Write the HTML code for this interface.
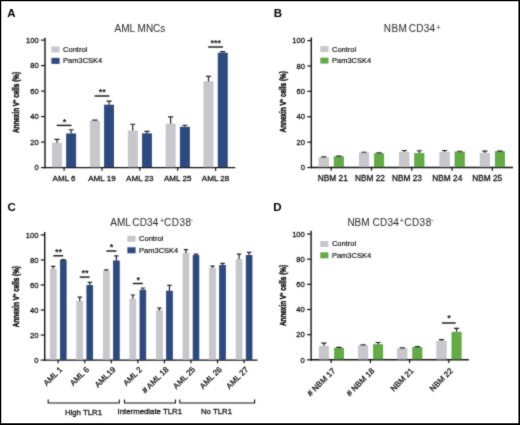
<!DOCTYPE html>
<html><head><meta charset="utf-8"><style>
html,body{margin:0;padding:0;background:#fff;}
body{width:520px;height:425px;overflow:hidden;}
svg{display:block;will-change:transform;}
text{font-family:"Liberation Sans", sans-serif;fill:#333;}
.tk,.xl,.xlb,.br{stroke:#111;stroke-width:0.28px;}
.lg{stroke:#111;stroke-width:0.18px;}
.yl{stroke:#000;stroke-width:0.4px;}
.ttl text{stroke:#111;stroke-width:0.05px;}
.tk{font-size:7.6px;fill:#1a1a1a;}
.xl{font-size:8.05px;fill:#111;}
.xlb{font-size:8.3px;fill:#111;}
.lg{font-size:7.5px;fill:#111;}
.ti{font-size:10px;fill:#222;}
.st{font-size:9px;font-weight:bold;fill:#111;}
.yl{font-size:9.4px;font-weight:bold;fill:#000;}
.pl{font-size:11.5px;font-weight:bold;fill:#000;}
.br{font-size:7.8px;fill:#111;}
</style></head><body>
<svg width="520" height="425" viewBox="0 0 520 425">
<defs><filter id="bl" x="0" y="0" width="520" height="425" filterUnits="userSpaceOnUse" color-interpolation-filters="sRGB"><feConvolveMatrix order="3" kernelMatrix="1 2 1 2 16 2 1 2 1" edgeMode="duplicate"/></filter></defs>
<g filter="url(#bl)">
<rect x="0" y="0" width="520" height="425" fill="#fff"/>
<line x1="45" y1="37.8" x2="45" y2="168.3" stroke="#111" stroke-width="1.4"/>
<line x1="44.3" y1="167.6" x2="235.2" y2="167.6" stroke="#111" stroke-width="1.4"/>
<line x1="41" y1="167.6" x2="45" y2="167.6" stroke="#111" stroke-width="1.2"/>
<text x="38.7" y="170.3" text-anchor="end" class="tk">0</text>
<line x1="41" y1="142.1" x2="45" y2="142.1" stroke="#111" stroke-width="1.2"/>
<text x="38.7" y="144.8" text-anchor="end" class="tk">20</text>
<line x1="41" y1="116.6" x2="45" y2="116.6" stroke="#111" stroke-width="1.2"/>
<text x="38.7" y="119.3" text-anchor="end" class="tk">40</text>
<line x1="41" y1="91.1" x2="45" y2="91.1" stroke="#111" stroke-width="1.2"/>
<text x="38.7" y="93.8" text-anchor="end" class="tk">60</text>
<line x1="41" y1="65.6" x2="45" y2="65.6" stroke="#111" stroke-width="1.2"/>
<text x="38.7" y="68.3" text-anchor="end" class="tk">80</text>
<line x1="41" y1="40.1" x2="45" y2="40.1" stroke="#111" stroke-width="1.2"/>
<text x="38.7" y="42.8" text-anchor="end" class="tk">100</text>
<line x1="64.1" y1="167.6" x2="64.1" y2="170.8" stroke="#111" stroke-width="1.2"/>
<rect x="52.45" y="143.09" width="9.1" height="23.81" fill="#c8c7cc" stroke="#bebdc3" stroke-width="0.7"/>
<path d="M57 142.74V139.42M54.4 139.42H59.6" stroke="#222" stroke-width="1.2" fill="none"/>
<rect x="66.65" y="133.91" width="9.1" height="32.99" fill="#2b4a82" stroke="#1f3563" stroke-width="0.7"/>
<path d="M71.2 133.56V129.73M68.6 129.73H73.8" stroke="#222" stroke-width="1.2" fill="none"/>
<line x1="56.7" y1="125.4" x2="71.5" y2="125.4" stroke="#111" stroke-width="1.4"/>
<text x="64.4" y="124.6" text-anchor="middle" class="st">*</text>
<text x="64.1" y="180.6" text-anchor="middle" class="xl">AML 6</text>
<line x1="101.97" y1="167.6" x2="101.97" y2="170.8" stroke="#111" stroke-width="1.2"/>
<rect x="90.32" y="121.03" width="9.1" height="45.87" fill="#c8c7cc" stroke="#bebdc3" stroke-width="0.7"/>
<path d="M94.87 120.68V120.17M92.27 120.17H97.47" stroke="#222" stroke-width="1.2" fill="none"/>
<rect x="104.52" y="105.09" width="9.1" height="61.81" fill="#2b4a82" stroke="#1f3563" stroke-width="0.7"/>
<path d="M109.07 104.74V101.05M106.47 101.05H111.67" stroke="#222" stroke-width="1.2" fill="none"/>
<line x1="94.57" y1="96" x2="109.37" y2="96" stroke="#111" stroke-width="1.4"/>
<text x="102.27" y="95.2" text-anchor="middle" class="st">**</text>
<text x="101.97" y="180.6" text-anchor="middle" class="xl">AML 19</text>
<line x1="139.84" y1="167.6" x2="139.84" y2="170.8" stroke="#111" stroke-width="1.2"/>
<rect x="128.19" y="130.97" width="9.1" height="35.92" fill="#c8c7cc" stroke="#bebdc3" stroke-width="0.7"/>
<path d="M132.74 130.62V124.25M130.14 124.25H135.34" stroke="#222" stroke-width="1.2" fill="none"/>
<rect x="142.39" y="133.78" width="9.1" height="33.12" fill="#2b4a82" stroke="#1f3563" stroke-width="0.7"/>
<path d="M146.94 133.43V131.39M144.34 131.39H149.54" stroke="#222" stroke-width="1.2" fill="none"/>
<text x="139.84" y="180.6" text-anchor="middle" class="xl">AML 23</text>
<line x1="177.71" y1="167.6" x2="177.71" y2="170.8" stroke="#111" stroke-width="1.2"/>
<rect x="166.06" y="124.09" width="9.1" height="42.81" fill="#c8c7cc" stroke="#bebdc3" stroke-width="0.7"/>
<path d="M170.61 123.74V116.86M168.01 116.86H173.21" stroke="#222" stroke-width="1.2" fill="none"/>
<rect x="180.26" y="127.15" width="9.1" height="39.75" fill="#2b4a82" stroke="#1f3563" stroke-width="0.7"/>
<path d="M184.81 126.8V125.27M182.21 125.27H187.41" stroke="#222" stroke-width="1.2" fill="none"/>
<text x="177.71" y="180.6" text-anchor="middle" class="xl">AML 25</text>
<line x1="215.58" y1="167.6" x2="215.58" y2="170.8" stroke="#111" stroke-width="1.2"/>
<rect x="203.93" y="81.76" width="9.1" height="85.14" fill="#c8c7cc" stroke="#bebdc3" stroke-width="0.7"/>
<path d="M208.48 81.41V76.44M205.88 76.44H211.08" stroke="#222" stroke-width="1.2" fill="none"/>
<rect x="218.13" y="53.07" width="9.1" height="113.83" fill="#2b4a82" stroke="#1f3563" stroke-width="0.7"/>
<path d="M222.68 52.72V51.7M220.08 51.7H225.28" stroke="#222" stroke-width="1.2" fill="none"/>
<line x1="208.18" y1="47" x2="222.98" y2="47" stroke="#111" stroke-width="1.4"/>
<text x="215.88" y="46.2" text-anchor="middle" class="st">***</text>
<text x="215.58" y="180.6" text-anchor="middle" class="xl">AML 28</text>
<rect x="51.4" y="46.4" width="8.2" height="6" fill="#c8c7cc"/>
<rect x="51.4" y="57.9" width="8.2" height="6" fill="#2b4a82"/>
<text x="63.1" y="51.8" class="lg">Control</text>
<text x="63.1" y="63.3" class="lg">Pam3CSK4</text>
<text transform="translate(18.8 102.5) rotate(-90) scale(0.68 1)" text-anchor="middle" class="yl">Annexin V<tspan dy="-3" font-size="6">+</tspan><tspan dy="3"> cells (%)</tspan></text>
<g class="ttl"><text x="114.6" y="32.2" font-size="10" fill="#111">AML MNCs</text></g>
<text x="7.3" y="17.2" class="pl">A</text>
<line x1="311.3" y1="37.5" x2="311.3" y2="168.2" stroke="#111" stroke-width="1.4"/>
<line x1="310.6" y1="167.5" x2="513" y2="167.5" stroke="#111" stroke-width="1.4"/>
<line x1="307.3" y1="167.5" x2="311.3" y2="167.5" stroke="#111" stroke-width="1.2"/>
<text x="305" y="170.2" text-anchor="end" class="tk">0</text>
<line x1="307.3" y1="142.12" x2="311.3" y2="142.12" stroke="#111" stroke-width="1.2"/>
<text x="305" y="144.82" text-anchor="end" class="tk">20</text>
<line x1="307.3" y1="116.74" x2="311.3" y2="116.74" stroke="#111" stroke-width="1.2"/>
<text x="305" y="119.44" text-anchor="end" class="tk">40</text>
<line x1="307.3" y1="91.36" x2="311.3" y2="91.36" stroke="#111" stroke-width="1.2"/>
<text x="305" y="94.06" text-anchor="end" class="tk">60</text>
<line x1="307.3" y1="65.98" x2="311.3" y2="65.98" stroke="#111" stroke-width="1.2"/>
<text x="305" y="68.68" text-anchor="end" class="tk">80</text>
<line x1="307.3" y1="40.6" x2="311.3" y2="40.6" stroke="#111" stroke-width="1.2"/>
<text x="305" y="43.3" text-anchor="end" class="tk">100</text>
<line x1="331.2" y1="167.5" x2="331.2" y2="170.7" stroke="#111" stroke-width="1.2"/>
<rect x="319.05" y="157.75" width="9.4" height="9.05" fill="#c8c7cc" stroke="#bebdc3" stroke-width="0.7"/>
<path d="M323.75 157.4V156.97M321.15 156.97H326.35" stroke="#222" stroke-width="1.2" fill="none"/>
<rect x="334.15" y="156.81" width="9.3" height="9.99" fill="#62ab45" stroke="#559a3c" stroke-width="0.7"/>
<path d="M338.8 156.46V156.08M336.2 156.08H341.4" stroke="#222" stroke-width="1.2" fill="none"/>
<text x="332.8" y="180.9" text-anchor="middle" class="xlb">NBM 21</text>
<line x1="371.48" y1="167.5" x2="371.48" y2="170.7" stroke="#111" stroke-width="1.2"/>
<rect x="359.33" y="153" width="9.4" height="13.8" fill="#c8c7cc" stroke="#bebdc3" stroke-width="0.7"/>
<path d="M364.03 152.65V152.27M361.43 152.27H366.63" stroke="#222" stroke-width="1.2" fill="none"/>
<rect x="374.43" y="153.76" width="9.3" height="13.04" fill="#62ab45" stroke="#559a3c" stroke-width="0.7"/>
<path d="M379.08 153.41V152.78M376.48 152.78H381.68" stroke="#222" stroke-width="1.2" fill="none"/>
<text x="370" y="180.9" text-anchor="middle" class="xlb">NBM 22</text>
<line x1="411.76" y1="167.5" x2="411.76" y2="170.7" stroke="#111" stroke-width="1.2"/>
<rect x="399.61" y="152.24" width="9.4" height="14.56" fill="#c8c7cc" stroke="#bebdc3" stroke-width="0.7"/>
<path d="M404.31 151.89V150.5M401.71 150.5H406.91" stroke="#222" stroke-width="1.2" fill="none"/>
<rect x="414.71" y="153.38" width="9.3" height="13.42" fill="#62ab45" stroke="#559a3c" stroke-width="0.7"/>
<path d="M419.36 153.03V150.75M416.76 150.75H421.96" stroke="#222" stroke-width="1.2" fill="none"/>
<text x="406.9" y="180.9" text-anchor="middle" class="xlb">NBM 23</text>
<line x1="452.04" y1="167.5" x2="452.04" y2="170.7" stroke="#111" stroke-width="1.2"/>
<rect x="439.89" y="152.24" width="9.4" height="14.56" fill="#c8c7cc" stroke="#bebdc3" stroke-width="0.7"/>
<path d="M444.59 151.89V150.5M441.99 150.5H447.19" stroke="#222" stroke-width="1.2" fill="none"/>
<rect x="454.99" y="151.99" width="9.3" height="14.81" fill="#62ab45" stroke="#559a3c" stroke-width="0.7"/>
<path d="M459.64 151.64V151.26M457.04 151.26H462.24" stroke="#222" stroke-width="1.2" fill="none"/>
<text x="447.3" y="180.9" text-anchor="middle" class="xlb">NBM 24</text>
<line x1="492.32" y1="167.5" x2="492.32" y2="170.7" stroke="#111" stroke-width="1.2"/>
<rect x="480.17" y="153.38" width="9.4" height="13.42" fill="#c8c7cc" stroke="#bebdc3" stroke-width="0.7"/>
<path d="M484.87 153.03V151.13M482.27 151.13H487.47" stroke="#222" stroke-width="1.2" fill="none"/>
<rect x="495.27" y="151.73" width="9.3" height="15.07" fill="#62ab45" stroke="#559a3c" stroke-width="0.7"/>
<path d="M499.92 151.38V151.13M497.32 151.13H502.52" stroke="#222" stroke-width="1.2" fill="none"/>
<text x="487.2" y="180.9" text-anchor="middle" class="xlb">NBM 25</text>
<rect x="320.3" y="46.1" width="8.2" height="6" fill="#c8c7cc"/>
<rect x="320.3" y="57.6" width="8.2" height="6" fill="#62ab45"/>
<text x="332" y="51.5" class="lg">Control</text>
<text x="332" y="63" class="lg">Pam3CSK4</text>
<text transform="translate(285.8 101.8) rotate(-90) scale(0.68 1)" text-anchor="middle" class="yl">Annexin V<tspan dy="-3" font-size="6">+</tspan><tspan dy="3"> cells (%)</tspan></text>
<g class="ttl"><text x="383.8" y="31.7" font-size="10" fill="#111" textLength="23" lengthAdjust="spacing">NBM</text><text x="408.7" y="31.7" font-size="10" fill="#111" textLength="26.4" lengthAdjust="spacing">CD34</text><text x="436.3" y="30.2" font-size="7.5" fill="#111">+</text></g>
<text x="273.7" y="17.2" class="pl">B</text>
<line x1="44.7" y1="232" x2="44.7" y2="360.8" stroke="#111" stroke-width="1.4"/>
<line x1="44" y1="360.1" x2="257.5" y2="360.1" stroke="#111" stroke-width="1.4"/>
<line x1="40.7" y1="360.1" x2="44.7" y2="360.1" stroke="#111" stroke-width="1.2"/>
<text x="38.4" y="362.8" text-anchor="end" class="tk">0</text>
<line x1="40.7" y1="335.06" x2="44.7" y2="335.06" stroke="#111" stroke-width="1.2"/>
<text x="38.4" y="337.76" text-anchor="end" class="tk">20</text>
<line x1="40.7" y1="310.02" x2="44.7" y2="310.02" stroke="#111" stroke-width="1.2"/>
<text x="38.4" y="312.72" text-anchor="end" class="tk">40</text>
<line x1="40.7" y1="284.98" x2="44.7" y2="284.98" stroke="#111" stroke-width="1.2"/>
<text x="38.4" y="287.68" text-anchor="end" class="tk">60</text>
<line x1="40.7" y1="259.94" x2="44.7" y2="259.94" stroke="#111" stroke-width="1.2"/>
<text x="38.4" y="262.64" text-anchor="end" class="tk">80</text>
<line x1="40.7" y1="234.9" x2="44.7" y2="234.9" stroke="#111" stroke-width="1.2"/>
<text x="38.4" y="237.6" text-anchor="end" class="tk">100</text>
<line x1="58.2" y1="360.1" x2="58.2" y2="363.3" stroke="#111" stroke-width="1.2"/>
<rect x="50.25" y="269.18" width="5.9" height="90.22" fill="#c8c7cc" stroke="#bebdc3" stroke-width="0.7"/>
<path d="M53.2 268.83V266.33M51 266.33H55.4" stroke="#222" stroke-width="1.2" fill="none"/>
<rect x="60.35" y="260.54" width="5.8" height="98.86" fill="#2b4a82" stroke="#1f3563" stroke-width="0.7"/>
<path d="M63.25 260.19V259.56M61.05 259.56H65.45" stroke="#222" stroke-width="1.2" fill="none"/>
<line x1="53.2" y1="255.8" x2="63.2" y2="255.8" stroke="#111" stroke-width="1.4"/>
<text x="58.5" y="255" text-anchor="middle" class="st">**</text>
<text transform="translate(63 370) rotate(-45)" text-anchor="end" class="xl">AML 1</text>
<line x1="84.75" y1="360.1" x2="84.75" y2="363.3" stroke="#111" stroke-width="1.2"/>
<rect x="76.8" y="301.61" width="5.9" height="57.79" fill="#c8c7cc" stroke="#bebdc3" stroke-width="0.7"/>
<path d="M79.75 301.26V297.12M77.55 297.12H81.95" stroke="#222" stroke-width="1.2" fill="none"/>
<rect x="86.9" y="285.58" width="5.8" height="73.82" fill="#2b4a82" stroke="#1f3563" stroke-width="0.7"/>
<path d="M89.8 285.23V282.35M87.6 282.35H92" stroke="#222" stroke-width="1.2" fill="none"/>
<line x1="79.75" y1="277.1" x2="89.75" y2="277.1" stroke="#111" stroke-width="1.4"/>
<text x="85.05" y="276.3" text-anchor="middle" class="st">**</text>
<text transform="translate(89.55 370) rotate(-45)" text-anchor="end" class="xl">AML 6</text>
<line x1="111.3" y1="360.1" x2="111.3" y2="363.3" stroke="#111" stroke-width="1.2"/>
<rect x="103.35" y="271.18" width="5.9" height="88.22" fill="#c8c7cc" stroke="#bebdc3" stroke-width="0.7"/>
<path d="M106.3 270.83V269.96M104.1 269.96H108.5" stroke="#222" stroke-width="1.2" fill="none"/>
<rect x="113.45" y="260.92" width="5.8" height="98.48" fill="#2b4a82" stroke="#1f3563" stroke-width="0.7"/>
<path d="M116.35 260.57V255.81M114.15 255.81H118.55" stroke="#222" stroke-width="1.2" fill="none"/>
<line x1="106.3" y1="251" x2="116.3" y2="251" stroke="#111" stroke-width="1.4"/>
<text x="111.6" y="250.2" text-anchor="middle" class="st">*</text>
<text transform="translate(116.1 370) rotate(-45)" text-anchor="end" class="xl">AML19</text>
<line x1="137.85" y1="360.1" x2="137.85" y2="363.3" stroke="#111" stroke-width="1.2"/>
<rect x="129.9" y="299.1" width="5.9" height="60.3" fill="#c8c7cc" stroke="#bebdc3" stroke-width="0.7"/>
<path d="M132.85 298.75V295M130.65 295H135.05" stroke="#222" stroke-width="1.2" fill="none"/>
<rect x="140" y="290.09" width="5.8" height="69.31" fill="#2b4a82" stroke="#1f3563" stroke-width="0.7"/>
<path d="M142.9 289.74V287.98M140.7 287.98H145.1" stroke="#222" stroke-width="1.2" fill="none"/>
<line x1="132.85" y1="283.5" x2="142.85" y2="283.5" stroke="#111" stroke-width="1.4"/>
<text x="138.15" y="282.7" text-anchor="middle" class="st">*</text>
<text transform="translate(142.65 370) rotate(-45)" text-anchor="end" class="xl">AML 2</text>
<line x1="164.4" y1="360.1" x2="164.4" y2="363.3" stroke="#111" stroke-width="1.2"/>
<rect x="156.45" y="310.75" width="5.9" height="48.65" fill="#c8c7cc" stroke="#bebdc3" stroke-width="0.7"/>
<path d="M159.4 310.4V308.14M157.2 308.14H161.6" stroke="#222" stroke-width="1.2" fill="none"/>
<rect x="166.55" y="291.09" width="5.8" height="68.31" fill="#2b4a82" stroke="#1f3563" stroke-width="0.7"/>
<path d="M169.45 290.74V285.36M167.25 285.36H171.65" stroke="#222" stroke-width="1.2" fill="none"/>
<text transform="translate(169.2 370) rotate(-45)" text-anchor="end" class="xl"># AML 18</text>
<line x1="190.95" y1="360.1" x2="190.95" y2="363.3" stroke="#111" stroke-width="1.2"/>
<rect x="183" y="253.4" width="5.9" height="106" fill="#c8c7cc" stroke="#bebdc3" stroke-width="0.7"/>
<path d="M185.95 253.05V249.55M183.75 249.55H188.15" stroke="#222" stroke-width="1.2" fill="none"/>
<rect x="193.1" y="255.53" width="5.8" height="103.87" fill="#2b4a82" stroke="#1f3563" stroke-width="0.7"/>
<path d="M196 255.18V254.18M193.8 254.18H198.2" stroke="#222" stroke-width="1.2" fill="none"/>
<text transform="translate(195.75 370) rotate(-45)" text-anchor="end" class="xl">AML 25</text>
<line x1="217.5" y1="360.1" x2="217.5" y2="363.3" stroke="#111" stroke-width="1.2"/>
<rect x="209.55" y="268.43" width="5.9" height="90.97" fill="#c8c7cc" stroke="#bebdc3" stroke-width="0.7"/>
<path d="M212.5 268.08V266.07M210.3 266.07H214.7" stroke="#222" stroke-width="1.2" fill="none"/>
<rect x="219.65" y="265.3" width="5.8" height="94.1" fill="#2b4a82" stroke="#1f3563" stroke-width="0.7"/>
<path d="M222.55 264.95V263.45M220.35 263.45H224.75" stroke="#222" stroke-width="1.2" fill="none"/>
<text transform="translate(222.3 370) rotate(-45)" text-anchor="end" class="xl">AML 26</text>
<line x1="244.05" y1="360.1" x2="244.05" y2="363.3" stroke="#111" stroke-width="1.2"/>
<rect x="236.1" y="259.66" width="5.9" height="99.74" fill="#c8c7cc" stroke="#bebdc3" stroke-width="0.7"/>
<path d="M239.05 259.31V254.18M236.85 254.18H241.25" stroke="#222" stroke-width="1.2" fill="none"/>
<rect x="246.2" y="255.53" width="5.8" height="103.87" fill="#2b4a82" stroke="#1f3563" stroke-width="0.7"/>
<path d="M249.1 255.18V252.43M246.9 252.43H251.3" stroke="#222" stroke-width="1.2" fill="none"/>
<text transform="translate(248.85 370) rotate(-45)" text-anchor="end" class="xl">AML 27</text>
<rect x="127.4" y="235.8" width="8.2" height="6" fill="#c8c7cc"/>
<rect x="127.4" y="247.3" width="8.2" height="6" fill="#2b4a82"/>
<text x="139.1" y="241.2" class="lg">Control</text>
<text x="139.1" y="252.7" class="lg">Pam3CSK4</text>
<text transform="translate(18.6 296.6) rotate(-90) scale(0.68 1)" text-anchor="middle" class="yl">Annexin V<tspan dy="-3" font-size="6">+</tspan><tspan dy="3"> cells (%)</tspan></text>
<g class="ttl"><text x="110.3" y="226.4" font-size="10" fill="#111">AML</text><text x="132.3" y="226.4" font-size="10" fill="#111" textLength="25.9" lengthAdjust="spacing">CD34</text><text x="160" y="223" font-size="7" fill="#111">+</text><text x="164" y="226.4" font-size="10" fill="#111" textLength="27.1" lengthAdjust="spacing">CD38</text><text x="190.7" y="222" font-size="7" fill="#888">-</text></g>
<text x="7.5" y="211.4" class="pl">C</text>
<line x1="311.1" y1="230.7" x2="311.1" y2="360.5" stroke="#111" stroke-width="1.4"/>
<line x1="310.4" y1="359.8" x2="468.8" y2="359.8" stroke="#111" stroke-width="1.4"/>
<line x1="307.1" y1="359.8" x2="311.1" y2="359.8" stroke="#111" stroke-width="1.2"/>
<text x="304.8" y="362.5" text-anchor="end" class="tk">0</text>
<line x1="307.1" y1="334.64" x2="311.1" y2="334.64" stroke="#111" stroke-width="1.2"/>
<text x="304.8" y="337.34" text-anchor="end" class="tk">20</text>
<line x1="307.1" y1="309.48" x2="311.1" y2="309.48" stroke="#111" stroke-width="1.2"/>
<text x="304.8" y="312.18" text-anchor="end" class="tk">40</text>
<line x1="307.1" y1="284.32" x2="311.1" y2="284.32" stroke="#111" stroke-width="1.2"/>
<text x="304.8" y="287.02" text-anchor="end" class="tk">60</text>
<line x1="307.1" y1="259.16" x2="311.1" y2="259.16" stroke="#111" stroke-width="1.2"/>
<text x="304.8" y="261.86" text-anchor="end" class="tk">80</text>
<line x1="307.1" y1="234" x2="311.1" y2="234" stroke="#111" stroke-width="1.2"/>
<text x="304.8" y="236.7" text-anchor="end" class="tk">100</text>
<line x1="331.2" y1="359.8" x2="331.2" y2="363" stroke="#111" stroke-width="1.2"/>
<rect x="319.25" y="346.19" width="9.3" height="12.91" fill="#c8c7cc" stroke="#bebdc3" stroke-width="0.7"/>
<path d="M323.9 345.84V343.19M321.3 343.19H326.5" stroke="#222" stroke-width="1.2" fill="none"/>
<rect x="334.35" y="348.2" width="9.2" height="10.9" fill="#62ab45" stroke="#559a3c" stroke-width="0.7"/>
<path d="M338.95 347.85V347.35M336.35 347.35H341.55" stroke="#222" stroke-width="1.2" fill="none"/>
<text transform="translate(335.8 371.4) rotate(-45)" text-anchor="end" class="xl"># NBM 17</text>
<line x1="370.4" y1="359.8" x2="370.4" y2="363" stroke="#111" stroke-width="1.2"/>
<rect x="358.45" y="345.81" width="9.3" height="13.29" fill="#c8c7cc" stroke="#bebdc3" stroke-width="0.7"/>
<path d="M363.1 345.46V344.96M360.5 344.96H365.7" stroke="#222" stroke-width="1.2" fill="none"/>
<rect x="373.55" y="344.68" width="9.2" height="14.42" fill="#62ab45" stroke="#559a3c" stroke-width="0.7"/>
<path d="M378.15 344.33V342.5M375.55 342.5H380.75" stroke="#222" stroke-width="1.2" fill="none"/>
<text transform="translate(375 371.4) rotate(-45)" text-anchor="end" class="xl"># NBM 18</text>
<line x1="409.6" y1="359.8" x2="409.6" y2="363" stroke="#111" stroke-width="1.2"/>
<rect x="397.65" y="348.7" width="9.3" height="10.4" fill="#c8c7cc" stroke="#bebdc3" stroke-width="0.7"/>
<path d="M402.3 348.35V347.85M399.7 347.85H404.9" stroke="#222" stroke-width="1.2" fill="none"/>
<rect x="412.75" y="347.32" width="9.2" height="11.78" fill="#62ab45" stroke="#559a3c" stroke-width="0.7"/>
<path d="M417.35 346.97V346.59M414.75 346.59H419.95" stroke="#222" stroke-width="1.2" fill="none"/>
<text transform="translate(414.2 371.4) rotate(-45)" text-anchor="end" class="xl">NBM 21</text>
<line x1="448.8" y1="359.8" x2="448.8" y2="363" stroke="#111" stroke-width="1.2"/>
<rect x="436.85" y="341.15" width="9.3" height="17.95" fill="#c8c7cc" stroke="#bebdc3" stroke-width="0.7"/>
<path d="M441.5 340.8V339.67M438.9 339.67H444.1" stroke="#222" stroke-width="1.2" fill="none"/>
<rect x="451.95" y="332.22" width="9.2" height="26.88" fill="#62ab45" stroke="#559a3c" stroke-width="0.7"/>
<path d="M456.55 331.87V328.35M453.95 328.35H459.15" stroke="#222" stroke-width="1.2" fill="none"/>
<line x1="441.9" y1="323" x2="455.7" y2="323" stroke="#111" stroke-width="1.4"/>
<text x="449.1" y="321.2" text-anchor="middle" class="st">*</text>
<text transform="translate(453.4 371.4) rotate(-45)" text-anchor="end" class="xl">NBM 22</text>
<rect x="320.2" y="241" width="8.2" height="6" fill="#c8c7cc"/>
<rect x="320.2" y="252.3" width="8.2" height="6" fill="#62ab45"/>
<text x="331.9" y="246.4" class="lg">Control</text>
<text x="331.9" y="257.7" class="lg">Pam3CSK4</text>
<text transform="translate(286.1 295.5) rotate(-90) scale(0.68 1)" text-anchor="middle" class="yl">Annexin V<tspan dy="-3" font-size="6">+</tspan><tspan dy="3"> cells (%)</tspan></text>
<g class="ttl"><text x="347.4" y="226.4" font-size="10" fill="#111">NBM</text><text x="372.6" y="226.4" font-size="10" fill="#111" textLength="26.1" lengthAdjust="spacing">CD34</text><text x="399.7" y="223" font-size="7" fill="#111">+</text><text x="404.2" y="226.4" font-size="10" fill="#111" textLength="27" lengthAdjust="spacing">CD38</text><text x="430.9" y="222" font-size="7" fill="#888">-</text></g>
<text x="273.3" y="211.4" class="pl">D</text>
<path d="M48.2 399.6V403H119.3V399.6" stroke="#111" stroke-width="1.1" fill="none"/>
<path d="M124.5 399.6V403H175.5V399.6" stroke="#111" stroke-width="1.1" fill="none"/>
<path d="M179.8 399.6V403H254.6V399.6" stroke="#111" stroke-width="1.1" fill="none"/>
<text x="83.5" y="414.5" text-anchor="middle" class="br">High TLR1</text>
<text x="149.8" y="414.2" text-anchor="middle" class="br">Intermediate TLR1</text>
<text x="216.5" y="414.2" text-anchor="middle" class="br">No TLR1</text>
</g>
<path d="M0 0H520V425H0ZM1.25 1.2V423.2H518.45V1.2Z" fill="#000" fill-rule="evenodd"/>
</svg>
</body></html>
